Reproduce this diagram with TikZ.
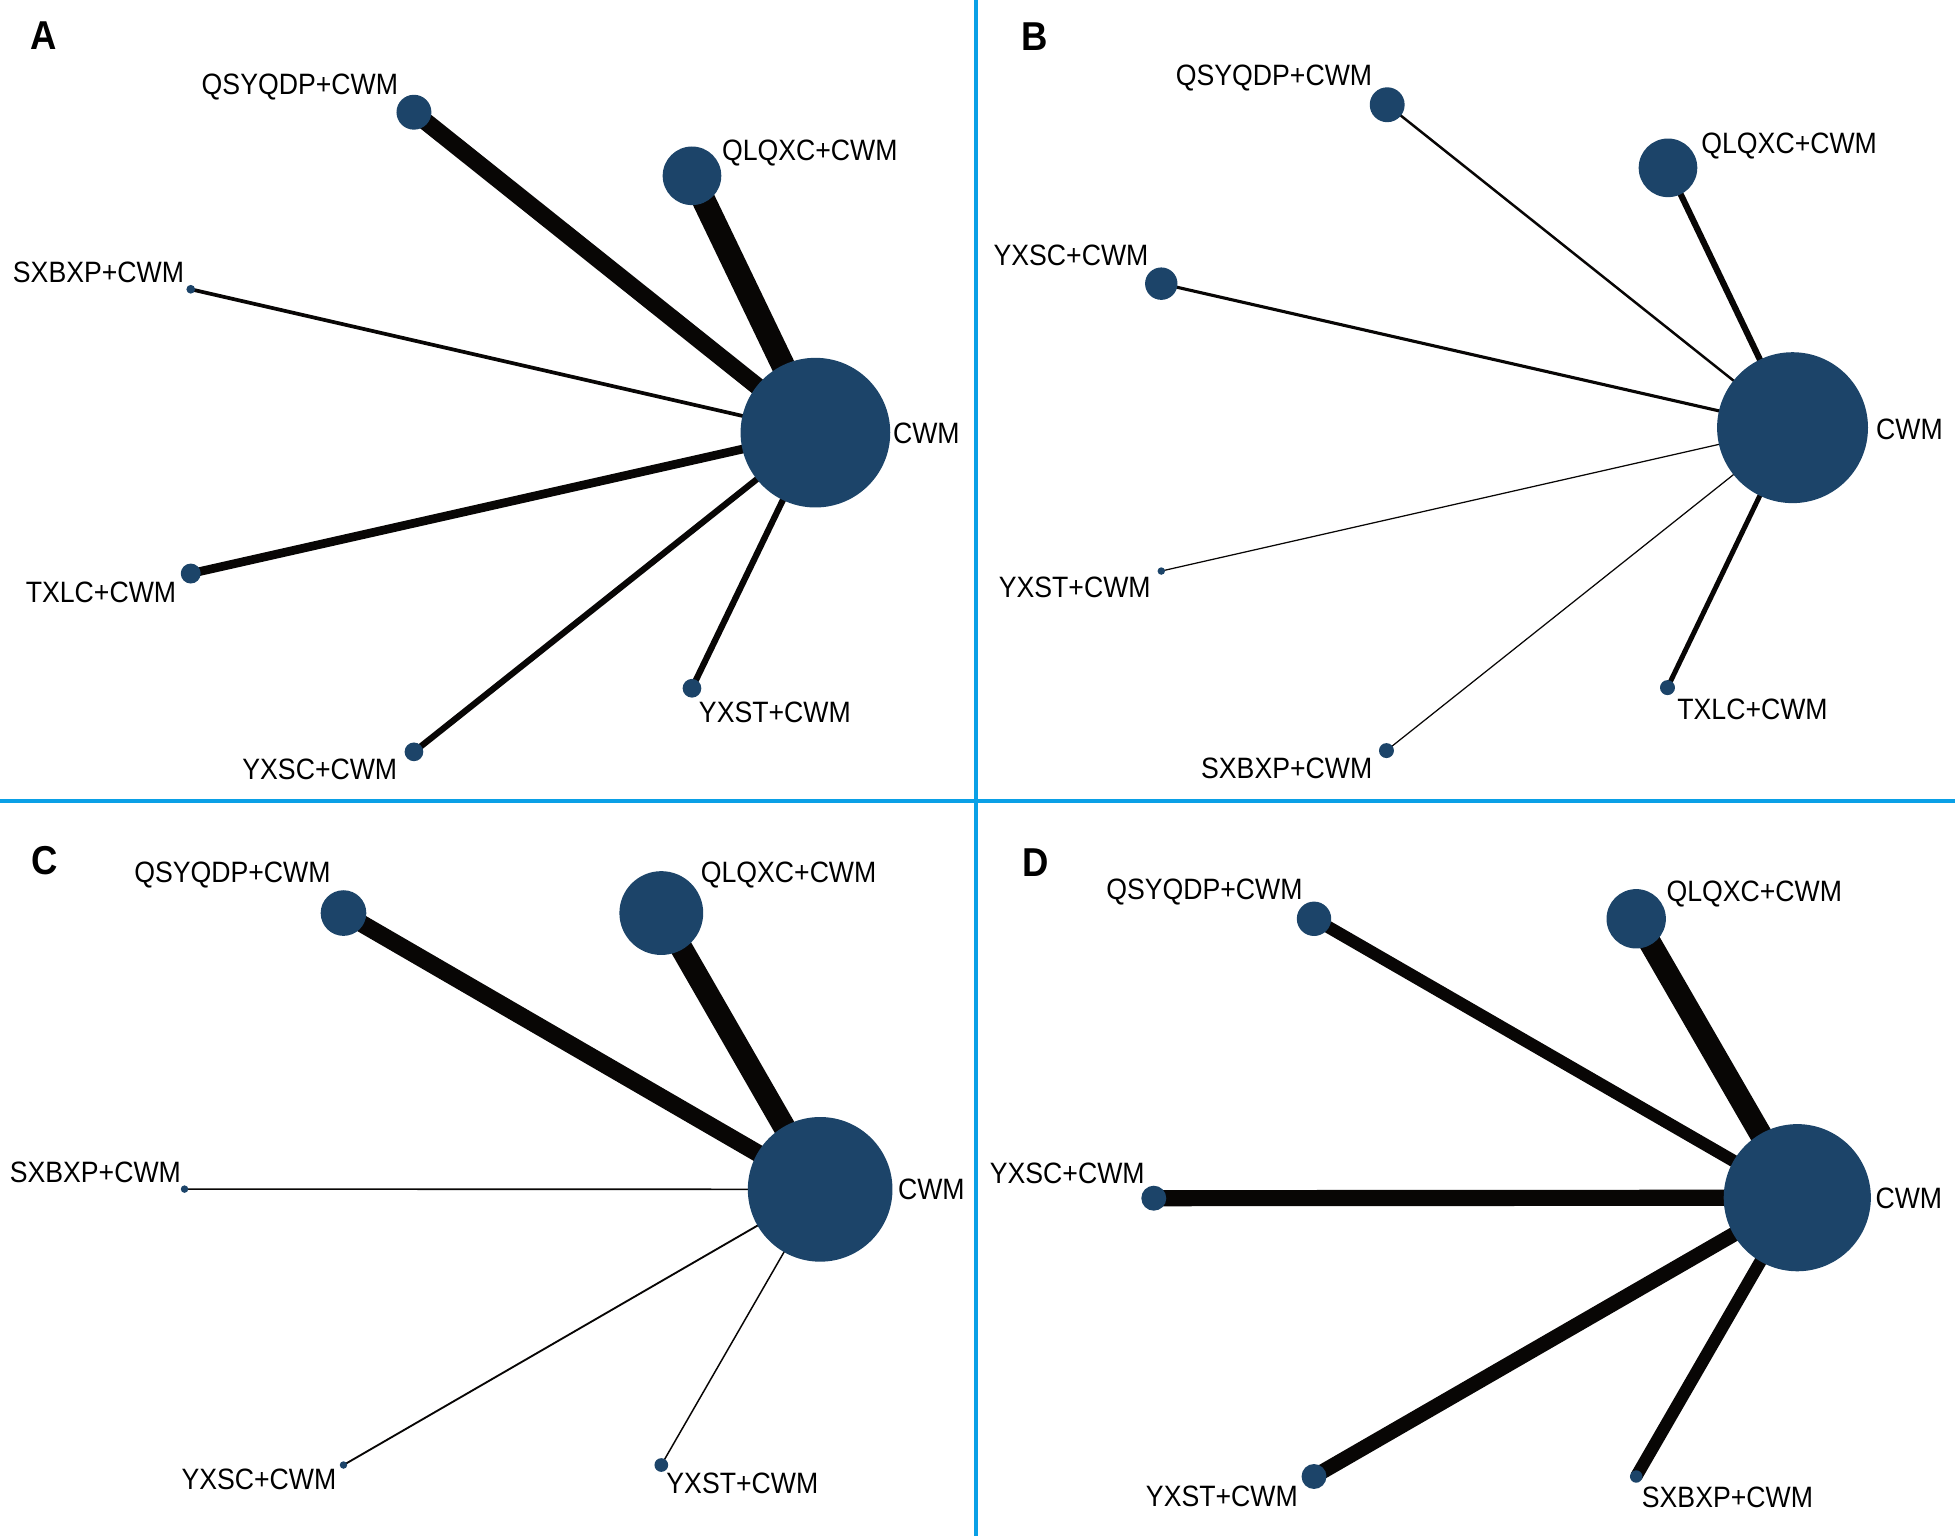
\documentclass[tikz,border=0pt]{standalone}
\usepackage{fontspec}
\setmainfont{Liberation Sans}
\newfontfamily\labelfont{Liberation Sans}[FakeStretch=0.905]
\usetikzlibrary{positioning}
\usetikzlibrary{backgrounds}
\definecolor{nodeblue}{RGB}{28,68,105}
\definecolor{edgeblack}{RGB}{8,6,5}
\definecolor{divider}{RGB}{10,160,230}
\tikzstyle{vertex}=[circle,fill=nodeblue,draw=none,inner sep=0pt]
\tikzstyle{edge} = [draw=edgeblack,line cap=butt]
\tikzstyle{treat} = [font=\labelfont\fontsize{16.8}{20}\selectfont,inner sep=0pt,text height=12pt,text depth=0pt]
\tikzstyle{panel} = [font=\labelfont\bfseries\fontsize{23}{27}\selectfont,inner sep=0pt,text height=16.5pt,text depth=0pt]
\tikzset{dot/.style={vertex,minimum size=#1*0.05cm}, wt/.style={line width=#1*0.7087pt}}

\begin{document}
\begin{tikzpicture}[x=0.025cm,y=-0.025cm]
   \useasboundingbox (0,0) rectangle (1568,1232);

   % panel dividers
   \coordinate (top) at (783,0);
   \coordinate (bottom) at (783,1232);
   \coordinate (left) at (0,642.5);
   \coordinate (right) at (1568,642.5);
   \draw[divider, line width=3.2*0.7087pt] (top) -- (bottom);
   \draw[divider, line width=3.2*0.7087pt] (left) -- (right);

   % panel letters
   \foreach \pos/\name in {{(35,28)/A}, {(830,29)/B}, {(36,690)/C}, {(831,691)/D}}
       \node[panel] (\name-tag) at \pos {\name};

   % ---- A ----
   \foreach \pos/\name/\r in {{(654,347)/A-cwm/60}, {(332,90)/A-qsyqdp/14}, {(555,141)/A-qlqxc/23.5},
       {(153,232)/A-sxbxp/3.5}, {(153,460)/A-txlc/8}, {(332,603)/A-yxsc/7.5}, {(555,552)/A-yxst/7.5}}
       \node[dot=\r] (\name) at \pos {};
   \foreach \pos/\name/\txt in {{(240.5,67.5)/A-qsyqdp/QSYQDP+CWM}, {(649.5,120)/A-qlqxc/QLQXC+CWM},
       {(79,218)/A-sxbxp/SXBXP+CWM}, {(81,475)/A-txlc/TXLC+CWM}, {(256.5,617)/A-yxsc/YXSC+CWM},
       {(621.5,571)/A-yxst/YXST+CWM}, {(743,347)/A-cwm/CWM}}
       \node[treat] (\name-lbl) at \pos {\txt};

   % ---- B ----
   \foreach \pos/\name/\r in {{(1437.7,343)/B-cwm/60.5}, {(1112.6,84)/B-qsyqdp/14}, {(1337.8,134.6)/B-qlqxc/23.5},
       {(931.4,227.5)/B-yxsc/13}, {(931.4,458)/B-yxst/3}, {(1112,602)/B-sxbxp/6}, {(1337.4,551.5)/B-txlc/6}}
       \node[dot=\r] (\name) at \pos {};
   \foreach \pos/\name/\txt in {{(1021.8,60.5)/B-qsyqdp/QSYQDP+CWM}, {(1435,114.6)/B-qlqxc/QLQXC+CWM},
       {(859,204.6)/B-yxsc/YXSC+CWM}, {(862,470.5)/B-yxst/YXST+CWM}, {(1032,615.8)/B-sxbxp/SXBXP+CWM},
       {(1405.6,568.7)/B-txlc/TXLC+CWM}, {(1531.5,343.7)/B-cwm/CWM}}
       \node[treat] (\name-lbl) at \pos {\txt};

   % ---- C ----
   \foreach \pos/\name/\r in {{(657.8,953.9)/C-cwm/58}, {(275.5,732.3)/C-qsyqdp/18.3}, {(530.4,732.3)/C-qlqxc/33.6},
       {(148,953.7)/C-sxbxp/3}, {(275.5,1175)/C-yxsc/3}, {(530.4,1175)/C-yxst/5.5}}
       \node[dot=\r] (\name) at \pos {};
   \foreach \pos/\name/\txt in {{(186.4,699.4)/C-qsyqdp/QSYQDP+CWM}, {(632.5,699.4)/C-qlqxc/QLQXC+CWM},
       {(76.5,940)/C-sxbxp/SXBXP+CWM}, {(207.7,1185.8)/C-yxsc/YXSC+CWM}, {(595.4,1189.6)/C-yxst/YXST+CWM},
       {(747,953.7)/C-cwm/CWM}}
       \node[treat] (\name-lbl) at \pos {\txt};

   % ---- D ----
   \foreach \pos/\name/\r in {{(1441.5,960.6)/D-cwm/59}, {(1053.9,736.9)/D-qsyqdp/13.8}, {(1312.3,736.9)/D-qlqxc/23.8},
       {(925.4,961)/D-yxsc/10}, {(1053.9,1184.2)/D-yxst/10}, {(1312.3,1184.2)/D-sxbxp/5}}
       \node[dot=\r] (\name) at \pos {};
   \foreach \pos/\name/\txt in {{(966,713.2)/D-qsyqdp/QSYQDP+CWM}, {(1407,714.7)/D-qlqxc/QLQXC+CWM},
       {(856,941)/D-yxsc/YXSC+CWM}, {(980,1199.6)/D-yxst/YXST+CWM}, {(1385.5,1200.3)/D-sxbxp/SXBXP+CWM},
       {(1531,961)/D-cwm/CWM}}
       \node[treat] (\name-lbl) at \pos {\txt};

   % edges, under the nodes
   \begin{scope}[on background layer]
   \foreach \source/\dest/\w in {A-cwm/A-qsyqdp/14, A-cwm/A-qlqxc/19, A-cwm/A-sxbxp/3, A-cwm/A-txlc/7,
       A-cwm/A-yxsc/5, A-cwm/A-yxst/5,
       B-cwm/B-qsyqdp/2, B-cwm/B-qlqxc/5, B-cwm/B-yxsc/2.5, B-cwm/B-yxst/1, B-cwm/B-sxbxp/1, B-cwm/B-txlc/4,
       C-cwm/C-qsyqdp/14, C-cwm/C-qlqxc/18, C-cwm/C-sxbxp/1.3, C-cwm/C-yxsc/1.5, C-cwm/C-yxst/1.2,
       D-cwm/D-qsyqdp/10, D-cwm/D-qlqxc/18, D-cwm/D-yxsc/13, D-cwm/D-yxst/12, D-cwm/D-sxbxp/10}
       \path[edge, wt=\w] (\source.center) -- (\dest.center);
   \end{scope}
\end{tikzpicture}
\end{document}
